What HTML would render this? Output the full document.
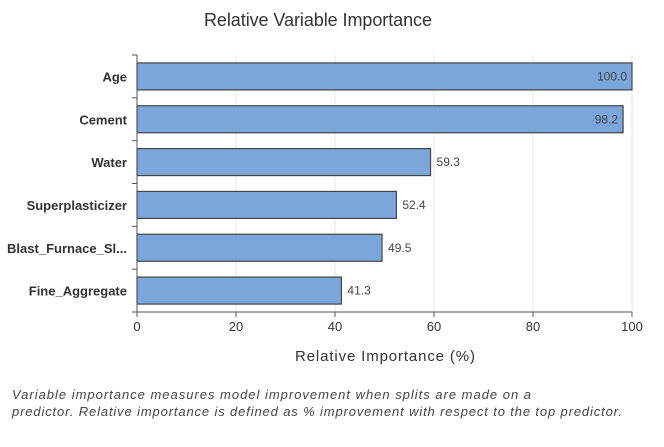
<!DOCTYPE html>
<html><head><meta charset="utf-8"><style>
body{margin:0;background:#fff;font-family:"Liberation Sans",sans-serif;}
</style></head><body>
<svg width="664" height="442" xmlns="http://www.w3.org/2000/svg">
<text x="318" y="26" text-anchor="middle" font-size="18" fill="#333" textLength="228">Relative Variable Importance</text>
<g id="plot"></g>
<text x="385" y="361" text-anchor="middle" font-size="15" fill="#333" textLength="180">Relative Importance (%)</text>
<text x="12" y="399" font-size="13" font-style="italic" fill="#444" textLength="519">Variable importance measures model improvement when splits are made on a</text>
<text x="12" y="416" font-size="13" font-style="italic" fill="#444" textLength="610">predictor. Relative importance is defined as % improvement with respect to the top predictor.</text>
</svg>
<script>
const categories=["Age","Cement","Water","Superplasticizer","Blast_Furnace_Sl...","Fine_Aggregate"];
const values=[100.0,98.2,59.3,52.4,49.5,41.3];
const tickValues=[0,20,40,60,80,100];
const NS="http://www.w3.org/2000/svg";
const plotG=document.getElementById("plot");
const x0=137,x1=632,yTop=55,yBottom=312;
const band=(yBottom-yTop)/categories.length;
const xs=v=>x0+(v-0)/(100-0)*(x1-x0);
function mk(t,a,txt){const e=document.createElementNS(NS,t);for(const k in a)e.setAttribute(k,a[k]);if(txt!=null)e.textContent=txt;plotG.appendChild(e);return e;}
tickValues.forEach(t=>{
  if(t>0){const gl=mk("line",{x1:xs(t),x2:xs(t),y1:yTop,y2:yBottom,stroke:"#e6e6e6","stroke-width":1});
  
  }
  const tk=mk("line",{x1:xs(t),x2:xs(t),y1:yBottom,y2:yBottom+5,stroke:"#555"});
  
  
  const tl=mk("text",{x:xs(t),y:yBottom+19,"text-anchor":"middle","font-size":13,fill:"#333"},String(t));
  
  
});
for(let i=0;i<=categories.length;i++){
  const tk=mk("line",{x1:x0-5,x2:x0,y1:yTop+i*band,y2:yTop+i*band,stroke:"#555"});
  
  
}
categories.forEach((c,i)=>{
  const yc=yTop+band*(i+0.5);
  const bh=27;
  const r=mk("rect",{x:x0,y:yc-bh/2,width:xs(values[i])-x0,height:bh,fill:"#7ba6dc",stroke:"#444","stroke-width":1.2});
  
  
  const l=mk("text",{x:x0-10,y:yc+5,"text-anchor":"end","font-size":13,"font-weight":"bold",fill:"#333"},c);
  
  
  const inside=values[i]>90;
  const v=mk("text",{x:inside?xs(values[i])-5:xs(values[i])+6,y:yc+4,"text-anchor":inside?"end":"start","font-size":12,fill:"#444"},values[i].toFixed(1));
  
  
});
const ya=mk("line",{x1:x0,x2:x0,y1:yTop,y2:yBottom,stroke:"#555"});


const xa=mk("line",{x1:x0,x2:x1,y1:yBottom,y2:yBottom,stroke:"#555"});


</script>
</body></html>
